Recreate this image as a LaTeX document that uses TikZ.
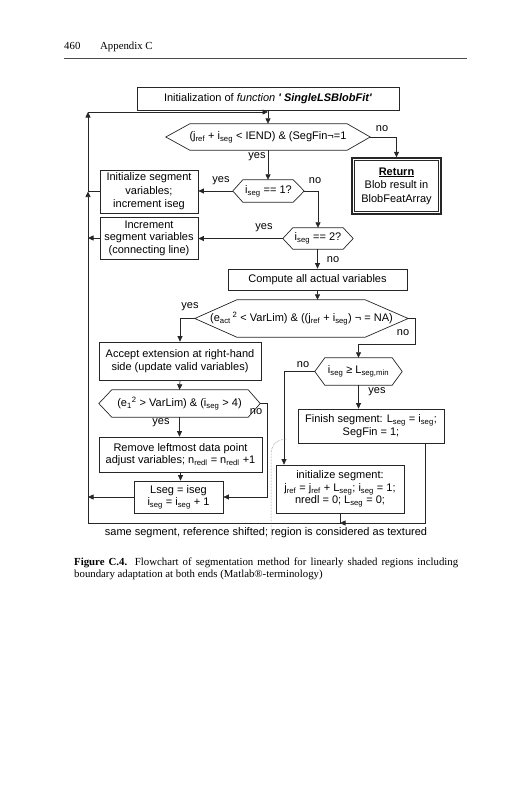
\documentclass[tikz,border=0pt]{standalone}
\usepackage{fontspec}
\setmainfont{Liberation Serif}
\newfontfamily\arialf{Liberation Sans}
\usetikzlibrary{arrows.meta}
\newcommand\fc{\arialf\fontsize{11}{12.5}\selectfont}
\newcommand\fcr{\arialf\fontsize{11}{13.5}\selectfont}
\newcommand\capf{\fontsize{10.8}{12.5}\selectfont}
\newcommand\sbs[1]{\textsubscript{#1}}
\newcommand\sps[1]{\textsuperscript{#1}}
\newcommand\hexdraw[3]{\draw[ln] (#1.west) -- ([xshift=#2pt]#1.north west) -- ([xshift=-#3pt]#1.north east) -- (#1.east) -- ([xshift=-#3pt]#1.south east) -- ([xshift=#2pt]#1.south west) -- cycle;}
\begin{document}
\begin{tikzpicture}[x=1pt,y=-1pt,
  box/.style={draw=black!85, line width=0.7pt, inner sep=1pt, align=center, font=\fc},
  hexnode/.style={inner sep=0pt, align=center, font=\fc},
  ln/.style={line width=0.7pt, draw=black!85},
  arr/.style={line width=0.7pt, draw=black!85, -{Triangle[length=5.5pt,width=5pt]}},
  lbl/.style={font=\fc, inner sep=0pt},
  captxt/.style={font=\capf, inner sep=0pt, anchor=base west}]
\useasboundingbox (0,0) rectangle (527,800);

% header
\node[captxt] (pg) at (64,50) {460};
\node[captxt] (hd) at (100,50) {Appendix C};
\draw[line width=0.5pt, black!70] (64,58) -- (467,58);

% boxes
\node[box, minimum width=262pt, minimum height=23pt] (init) at (268,98.5)
  {Initialization of \textit{function} \textbf{\textit{' SingleLSBlobFit'}}};
\node[hexnode, minimum width=204pt, minimum height=26pt] (d1) at (268,137)
  {(j\sbs{ref} + i\sbs{seg} < IEND) \& (SegFin¬=1};
\hexdraw{d1}{24}{23}
\node[box, font=\fcr, line width=1.4pt, minimum width=89pt, minimum height=56pt] (ret) at (396.5,186)
  {\underline{\textbf{Return}}\\Blob result in\\BlobFeatArray};
\draw[line width=0.6pt, black!85] ([xshift=3pt,yshift=-3pt]ret.north west) rectangle ([xshift=-3pt,yshift=3pt]ret.south east);
\node[hexnode, minimum width=71pt, minimum height=22pt] (d2) at (268.5,191) {i\sbs{seg} == 1?};
\hexdraw{d2}{10}{11}
\node[box, font=\fcr, minimum width=98pt, minimum height=43pt] (initseg) at (149,191.5)
  {Initialize segment\\variables;\\increment iseg};
\node[box, minimum width=98pt, minimum height=42pt] (incr) at (149,238)
  {Increment\\segment variables\\(connecting line)};
\node[hexnode, minimum width=70pt, minimum height=21pt] (d3) at (318,238.5) {i\sbs{seg} == 2?};
\hexdraw{d3}{10}{10}
\node[box, minimum width=179pt, minimum height=21pt] (compute) at (317.5,279.5) {Compute all actual variables};
\node[hexnode, minimum width=213pt, minimum height=37pt] (d4) at (301.5,318.5)
  {(e\sbs{act}\,\sps{2} < VarLim) \& ((j\sbs{ref} + i\sbs{seg}) ¬ = NA)};
\hexdraw{d4}{42}{43}
\node[box, minimum width=162pt, minimum height=38pt] (accept) at (180,361)
  {Accept extension at right-hand\\side (update valid variables)};
\node[hexnode, minimum width=87pt, minimum height=27pt] (d5) at (358.5,371.5)
  {i\sbs{seg} ≥ L\sbs{seg,min}};
\hexdraw{d5}{10}{10}
\node[hexnode, minimum width=161pt, minimum height=27pt] (d6) at (179.5,403.5)
  {(e\sbs{1}\sps{2} > VarLim) \& (i\sbs{seg} > 4)};
\hexdraw{d6}{13}{12}
\node[box, minimum width=146pt, minimum height=34pt] (finish) at (371,426)
  {Finish segment: L\sbs{seg} = i\sbs{seg};\\SegFin = 1;};
\node[box, minimum width=163pt, minimum height=35pt] (remove) at (180.5,454.5)
  {Remove leftmost data point\\adjust variables; n\sbs{redl} = n\sbs{redl} +1};
\node[box, minimum width=89pt, minimum height=32pt] (lseg) at (178.5,497)
  {Lseg = iseg\\i\sbs{seg} = i\sbs{seg} + 1};
\node[box, minimum width=128pt, minimum height=48pt] (initsg2) at (340,489)
  {initialize segment:\\j\sbs{ref} = j\sbs{ref} + L\sbs{seg}; i\sbs{seg} = 1;\\nredl = 0; L\sbs{seg} = 0;};

% connectors
\coordinate (Lbot) at (88,523);
\coordinate (Ltop) at (88,112);
\coordinate (k4) at (415,344);
\coordinate (k5) at (284,371.5);
\coordinate (k6) at (425,523);

\draw[arr] (init.south) -- (d1.north);
\draw[arr] (Lbot) -- (Lbot |- initseg.west);
\draw[arr] (initseg.west) -- (Lbot |- initseg.west) -- (Ltop);
\draw[arr] (Ltop) -- (Ltop -| init.south);
\draw[arr] (d1.east) -| (ret.north);
\draw[arr] (d1.south) -- (d1.south |- d2.north);
\draw[arr] (d2.west) -- (initseg.east |- d2.west);
\draw[arr] (d2.east) -| (d3.north);
\draw[arr] (d3.west) -- (incr.east |- d3.west);
\draw[arr] (incr.west) -- (incr.west -| Lbot);
\draw[arr] (d3.south -| compute.north) -- (compute.north);
\draw[arr] (compute.south) -- (compute.south |- d4.north);
\draw[arr] (d4.west) -| (accept.north);
\draw[arr] (d4.east) -| (k4) -| (d5.north);
\draw[arr] (accept.south) -- (d6.north);
\draw[arr] (d5.west) -- (k5) -- (k5 |- initsg2.north);
\draw[arr] (d5.south) -- (d5.south |- finish.north);
\draw[arr] (d6.south) -- (d6.south |- remove.north);
\draw[arr] (d6.east) -- ++(7,0) |- (lseg.east);
\draw[arr] (remove.south) -- (remove.south |- lseg.north);
\draw[arr] (lseg.west) -- (lseg.west -| Lbot);
\draw[arr] (finish.south -| k6) -- (k6) -- (k6 -| initsg2.south);
\draw[ln] (initsg2.south) -- (initsg2.south |- Lbot) -- (Lbot);

% labels
\node[lbl] (l1) at (382,129) {no};
\node[lbl] (l2) at (257,157) {yes};
\node[lbl] (l3) at (221,181) {yes};
\node[lbl] (l4) at (315,181) {no};
\node[lbl] (l5) at (264,228) {yes};
\node[lbl] (l6) at (333,260) {no};
\node[lbl] (l7) at (190,307) {yes};
\node[lbl] (l8) at (403,333) {no};
\node[lbl] (l9) at (303,365) {no};
\node[lbl] (l10) at (377,392) {yes};
\node[lbl] (l11) at (256,412) {no};
\node[lbl] (l12) at (161,423) {yes};
\node[lbl] (bot) at (266,533) {same segment, reference shifted; region is considered as textured};

% dotted line
\draw[densely dotted, black!55, line width=0.5pt] (286,439) .. controls (275,440) and (271,446) .. (271,456) -- (271,539);

% caption
\node[captxt] (cap1) at (74,565) {\makebox[384pt][s]{\textbf{Figure C.4.} Flowchart of segmentation method for linearly shaded regions including}};
\node[captxt] (cap2) at (74,577.5) {boundary adaptation at both ends (Matlab®-terminology)};
\end{tikzpicture}
\end{document}
